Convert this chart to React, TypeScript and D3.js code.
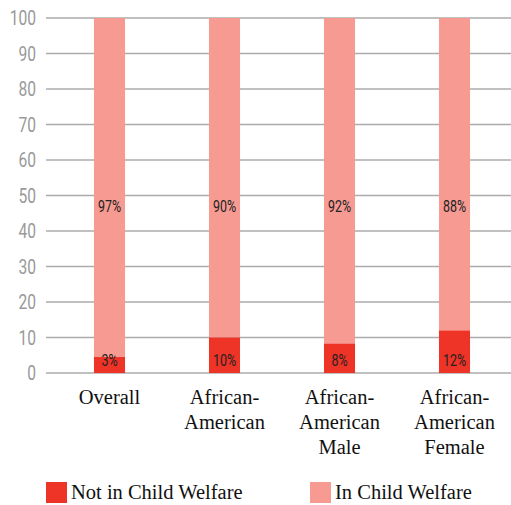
import React from 'react';
import * as d3 from 'd3';

const categories: string[][] = [
  ['Overall'],
  ['African-', 'American'],
  ['African-', 'American', 'Male'],
  ['African-', 'American', 'Female'],
];
const notInWelfare = [4.5, 10, 8.3, 12];
const inWelfare = [95.5, 90, 91.7, 88];
const notLabels = ['3%', '10%', '8%', '12%'];
const inLabels = ['97%', '90%', '92%', '88%'];
const yTicks = [0, 10, 20, 30, 40, 50, 60, 70, 80, 90, 100];
const legendItems = ['Not in Child Welfare', 'In Child Welfare'];

const W = 511;
const H = 505;
const DARK = '#EE3327';
const LIGHT = '#F69A92';
const SERIF = "'Liberation Serif', 'DejaVu Serif', 'Times New Roman', Times, serif";
const COND = "Roboto, 'Noto Sans', sans-serif";

export default function App() {
  const x = d3
    .scaleBand<number>()
    .domain(d3.range(categories.length))
    .range([52, 512])
    .paddingInner(0.73)
    .paddingOuter(0.365);
  const y = d3.scaleLinear().domain([0, 100]).range([373, 18]);
  const bw = x.bandwidth();

  const condText = (tx: number, ty: number, s: string, size: number, fill: string, anchor: string, sx: number) => (
    <text
      transform={`translate(${tx},${ty}) scale(${sx},1)`}
      dy="0.36em"
      textAnchor={anchor}
      fill={fill}
      fontSize={size}
      fontFamily={COND}
    >
      {s}
    </text>
  );

  return (
    <svg
      width={W}
      height={H}
      style={{ position: 'absolute', left: 0, top: 0, background: '#fff' }}
    >
      {yTicks.map((t) => (
        <g key={t}>
          <line x1={46} x2={W} y1={y(t)} y2={y(t)} stroke="#ababab" strokeWidth={1.5} />
          {condText(36, y(t), String(t), 19.5, '#999', 'end', 0.8)}
        </g>
      ))}
      {categories.map((c, i) => {
        const x0 = x(i)!;
        const cx = x0 + bw / 2;
        return (
          <g key={i}>
            <rect x={x0} width={bw} y={y(notInWelfare[i] + inWelfare[i])} height={y(notInWelfare[i]) - y(notInWelfare[i] + inWelfare[i])} fill={LIGHT} />
            <rect x={x0} width={bw} y={y(notInWelfare[i])} height={y(0) - y(notInWelfare[i])} fill={DARK} />
            {condText(cx, y(50) + 11, inLabels[i], 16, '#222', 'middle', 0.78)}
            {condText(cx, y(0) - 13, notLabels[i], 16, '#222', 'middle', 0.78)}
            {c.map((line, j) => (
              <text
                key={j}
                x={cx}
                y={397 + j * 25}
                dy="0.35em"
                textAnchor="middle"
                fontSize={20.5}
                fill="#111"
                fontFamily={SERIF}
              >
                {line}
              </text>
            ))}
          </g>
        );
      })}
      {legendItems.map((l, i) => {
        const lx = 46 + i * 264;
        return (
          <g key={l}>
            <rect x={lx} y={482} width={21} height={21} fill={i === 0 ? DARK : LIGHT} />
            <text x={lx + 25} y={499} fontSize={20.5} fill="#111" fontFamily={SERIF}>
              {l}
            </text>
          </g>
        );
      })}
    </svg>
  );
}
